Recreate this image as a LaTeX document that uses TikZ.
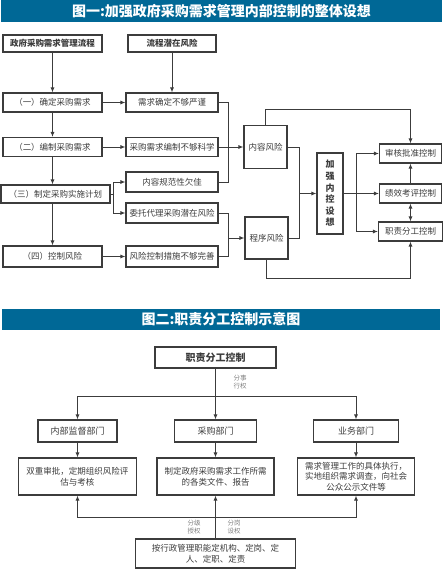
\documentclass[tikz,border=0pt]{standalone}
\usepackage{fontspec}
\setmainfont{Noto Sans CJK SC}
\usetikzlibrary{arrows.meta}
\definecolor{barblue}{RGB}{0,104,150}
\definecolor{linegray}{RGB}{60,60,60}

\begin{document}
\begin{tikzpicture}[x=1pt, y=-1pt, color=linegray, line width=0.9pt,
    >={Latex[length=5pt,width=4pt]},
    box/.style={draw, line width=1.1pt, inner sep=0pt, align=center,
        font=\fontsize{8.5}{11}\selectfont},
    bbox/.style={box, font=\fontsize{8.5}{11}\selectfont\bfseries},
    bar/.style={fill=barblue, inner sep=0pt, text=white,
        font=\fontsize{14}{16}\selectfont\bfseries},
    note/.style={align=center, text=gray, font=\fontsize{6.5}{8.5}\selectfont}]
    \useasboundingbox (0,0) rectangle (444,571);

    % figure one
    \node[bar, minimum width=441pt, minimum height=22pt] (title1) at (221.5,11)
        {图一:加强政府采购需求管理内部控制的整体设想};

    \node[bbox, minimum width=99pt, minimum height=17pt] (flow) at (52.5,43.5) {政府采购需求管理流程};
    \node[bbox, minimum width=88pt, minimum height=17pt] (risk) at (172,43.5) {流程潜在风险};

    \node[box, minimum width=99pt, minimum height=19pt] (s1) at (52.5,102.5) {（一）确定采购需求};
    \node[box, minimum width=99pt, minimum height=19pt] (s2) at (52.5,147) {（二）编制采购需求};
    \node[box, minimum width=109pt, minimum height=18pt] (s3) at (55.5,194) {（三）制定采购实施计划};
    \node[box, minimum width=99pt, minimum height=21pt] (s4) at (52.5,256.5) {（四）控制风险};

    \node[box, minimum width=92pt, minimum height=19pt] (r1) at (172,102.5) {需求确定不够严谨};
    \node[box, minimum width=92pt, minimum height=19pt] (r2) at (172,147) {采购需求编制不够科学};
    \node[box, minimum width=92pt, minimum height=20pt] (r3) at (172,182) {内容规范性欠佳};
    \node[box, minimum width=92pt, minimum height=20pt] (r4) at (172,213) {委托代理采购潜在风险};
    \node[box, minimum width=92pt, minimum height=21pt] (r5) at (172,256.5) {风险控制措施不够完善};

    \node[box, minimum width=43pt, minimum height=43pt] (content) at (265.5,147) {内容风险};
    \node[box, minimum width=43pt, minimum height=42pt] (proc) at (266.5,238) {程序风险};
    \node[bbox, minimum width=26pt, minimum height=81pt,
        font=\fontsize{9}{11.6}\selectfont\bfseries] (ctrl) at (330,193.5) {加\\强\\内\\控\\设\\想};

    \node[box, minimum width=62pt, minimum height=19pt] (c1) at (410.5,153.5) {审核批准控制};
    \node[box, minimum width=62pt, minimum height=19pt] (c2) at (410.5,193.5) {绩效考评控制};
    \node[box, minimum width=64pt, minimum height=19pt] (c3) at (410.5,231.5) {职责分工控制};

    \coordinate (sb) at (113,194);
    \coordinate (jc) at (228,147);
    \coordinate (jr) at (299,193.5);
    \coordinate (js) at (356,193.5);

    \draw[->] (flow) -- (s1);
    \draw[->] (risk) -- (r1);
    \draw[->] (s1) -- (s2);
    \draw[->] (s2) -- (s2 |- s3.north);
    \draw[->] (s3.south -| s2) -- (s4);

    \draw[->] (s1) -- (r1);
    \draw[->] (s2) -- (r2);
    \draw[->] (s4) -- (r5);
    \draw (s3) -- (sb);
    \draw[->] (sb) |- (r3);
    \draw[->] (sb) |- (r4);

    \draw (r1.east) -| (jc |- r3) -- (r3.east);
    \draw[->] (r2) -- (content);
    \draw (r4.east) -| (jc |- r5) -- (r5.east);
    \draw[->] (jc |- proc) -- (proc);

    \draw (content.east) -| (jr |- proc) -- (proc.east);
    \draw[->] (jr) -- (ctrl);
    \draw (ctrl) -- (js);
    \draw[->] (js) |- (c1);
    \draw[->] (js) -- (c2);
    \draw[->] (js) |- (c3);

    \draw[->] (content.north) -- ++(0,-16) -| (c1.north);
    \draw[->] (proc.south) -- ++(0,19) -| (c3.south);
    \draw[->] (c2) -- (c1);
    \draw[<->] (c2) -- (c3);

    % figure two
    \node[bar, minimum width=438pt, minimum height=21pt] (title2) at (221,319.5)
        {图二:职责分工控制示意图};

    \node[bbox, minimum width=121pt, minimum height=21pt,
        font=\fontsize{10}{12}\selectfont\bfseries] (duty) at (215.5,357.5) {职责分工控制};

    \node[box, minimum width=79pt, minimum height=22pt, font=\fontsize{9}{11}\selectfont] (d1) at (77.5,431) {内部监督部门};
    \node[box, minimum width=82pt, minimum height=22pt, font=\fontsize{9}{11}\selectfont] (d2) at (215.5,431) {采购部门};
    \node[box, minimum width=85pt, minimum height=22pt, font=\fontsize{9}{11}\selectfont] (d3) at (356,431) {业务部门};

    \node[box, minimum width=118pt, minimum height=37pt] (t1) at (77.5,476.5) {双重审批，定期组织风险评\\估与考核};
    \node[box, minimum width=117pt, minimum height=37pt] (t2) at (215.5,476.5) {制定政府采购需求工作所需\\的各类文件、报告};
    \node[box, minimum width=117pt, minimum height=37pt, font=\fontsize{8.5}{10.5}\selectfont] (t3) at (356,476.5)
        {需求管理工作的具体执行，\\实地组织需求调查，向社会\\公众公示文件等};

    \node[box, minimum width=160pt, minimum height=29pt] (base) at (215.5,553.5)
        {按行政管理职能定机构、定岗、定\\人、定职、定责};

    \node[note] (lb1) at (240,382) {分事\\行权};
    \node[note] (lb2) at (194,527) {分级\\授权};
    \node[note] (lb3) at (234,527) {分岗\\设权};

    \coordinate (hub) at (215.5,396);
    \coordinate (hb) at (215.5,517);

    \draw (duty) -- (hub);
    \draw[->] (hub) -| (d1);
    \draw[->] (hub) -- (d2);
    \draw[->] (hub) -| (d3);
    \draw[->] (d1) -- (t1);
    \draw[->] (d2) -- (t2);
    \draw[->] (d3) -- (t3);
    \draw[->] (base) -- (t2);
    \draw[->] (hb) -| (t1);
    \draw[->] (hb) -| (t3);
\end{tikzpicture}
\end{document}
